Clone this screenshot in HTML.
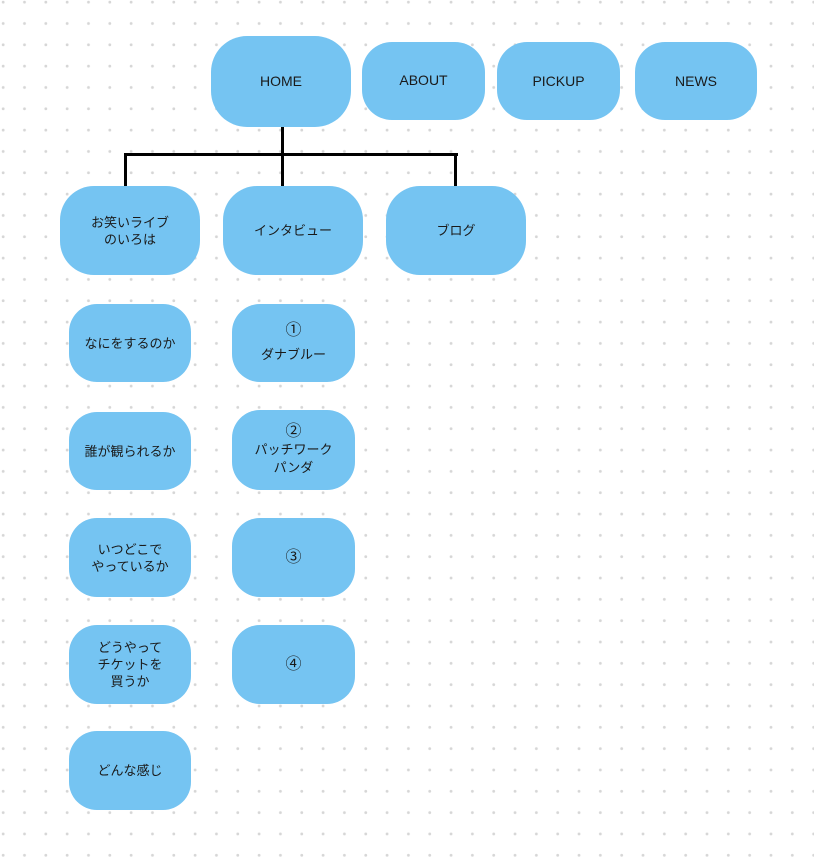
<!DOCTYPE html>
<html><head><meta charset="utf-8"><style>
body{margin:0;width:814px;height:866px;overflow:hidden;background:#fff;
background-image:radial-gradient(circle,#d6d6d6 1.3px,transparent 1.6px);background-size:21.33px 21.33px;background-position:-7.5px -8.5px;
font-family:"Liberation Sans","Noto Sans CJK JP",sans-serif;}
.b{position:absolute;background:#75c4f2;display:flex;align-items:center;justify-content:center;text-align:center;font-size:13px;line-height:17px;color:#1a1a1a;}
.l{position:absolute;background:#000;}
.n{font-size:16px;}
</style></head><body>
<div class="b" style="left:211px;top:36px;width:140px;height:91px;border-radius:36px;font-size:14px">HOME</div>
<div class="b" style="left:362px;top:42px;width:123px;height:78px;border-radius:30px;font-size:14px;padding-bottom:2px;box-sizing:border-box">ABOUT</div>
<div class="b" style="left:497px;top:42px;width:123px;height:78px;border-radius:30px;font-size:14px">PICKUP</div>
<div class="b" style="left:635px;top:42px;width:122px;height:78px;border-radius:30px;font-size:14px">NEWS</div>
<div class="l" style="left:281px;top:127px;width:3px;height:30px"></div>
<div class="l" style="left:124px;top:153px;width:334px;height:3px"></div>
<div class="l" style="left:124px;top:153px;width:3px;height:33px"></div>
<div class="l" style="left:281px;top:153px;width:3px;height:33px"></div>
<div class="l" style="left:454px;top:153px;width:3px;height:33px"></div>
<div class="b" style="left:60px;top:186px;width:140px;height:89px;border-radius:34px">お笑いライブ<br>のいろは</div>
<div class="b" style="left:223px;top:186px;width:140px;height:89px;border-radius:34px">インタビュー</div>
<div class="b" style="left:386px;top:186px;width:140px;height:89px;border-radius:34px">ブログ</div>
<div class="b" style="left:69px;top:304px;width:122px;height:78px;border-radius:28px">なにをするのか</div>
<div class="b" style="left:69px;top:412px;width:122px;height:78px;border-radius:28px">誰が観られるか</div>
<div class="b" style="left:69px;top:518px;width:122px;height:79px;border-radius:28px">いつどこで<br>やっているか</div>
<div class="b" style="left:69px;top:625px;width:122px;height:79px;border-radius:28px">どうやって<br>チケットを<br>買うか</div>
<div class="b" style="left:69px;top:731px;width:122px;height:79px;border-radius:28px">どんな感じ</div>
<div class="b" style="left:232px;top:304px;width:123px;height:78px;border-radius:28px;line-height:24px"><span><span class="n">①</span><br>ダナブルー</span></div>
<div class="b" style="left:232px;top:410px;width:123px;height:80px;border-radius:28px;line-height:18px"><span><span class="n">②</span><br>パッチワーク<br>パンダ</span></div>
<div class="b" style="left:232px;top:518px;width:123px;height:79px;border-radius:28px;font-size:16px">③</div>
<div class="b" style="left:232px;top:625px;width:123px;height:79px;border-radius:28px;font-size:16px">④</div>
</body></html>
